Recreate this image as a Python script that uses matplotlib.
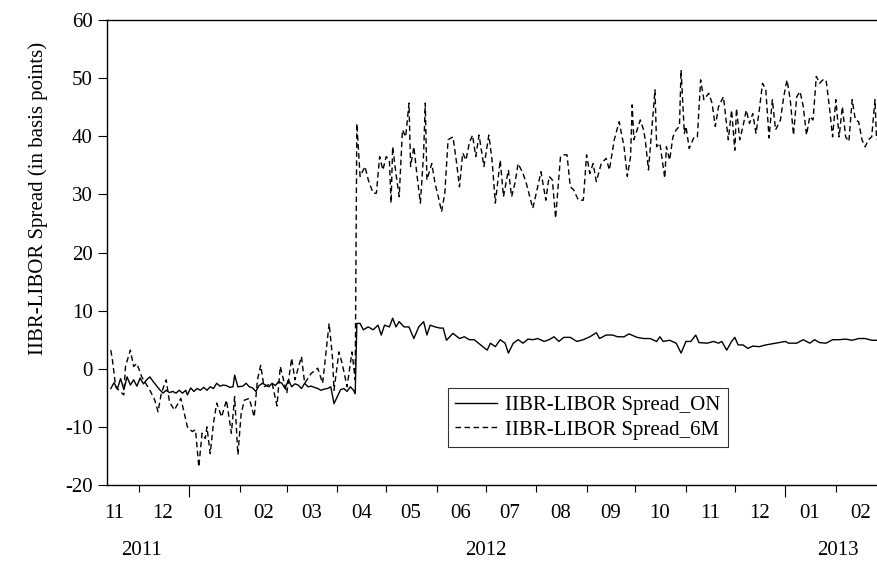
import pandas as pd
import matplotlib
matplotlib.use('Agg')
import matplotlib.pyplot as plt
import matplotlib.dates as mdates

plt.rcParams['font.family'] = ['Liberation Serif', 'DejaVu Serif']
plt.rcParams['axes.unicode_minus'] = False

# IIBR-LIBOR overnight spread (bp)
on_dates = [
    '2011-11-14', '2011-11-16', '2011-11-18', '2011-11-20', '2011-11-22', '2011-11-24',
    '2011-11-26', '2011-11-28', '2011-11-30', '2011-12-02', '2011-12-04', '2011-12-06',
    '2011-12-08', '2011-12-10', '2011-12-12', '2011-12-14', '2011-12-16', '2011-12-18',
    '2011-12-20', '2011-12-22', '2011-12-24', '2011-12-26', '2011-12-28', '2011-12-30',
    '2011-12-31', '2012-01-02', '2012-01-04', '2012-01-06', '2012-01-08', '2012-01-10',
    '2012-01-12', '2012-01-14', '2012-01-16', '2012-01-18', '2012-01-20', '2012-01-22',
    '2012-01-24', '2012-01-26', '2012-01-28', '2012-01-29', '2012-01-31', '2012-02-03',
    '2012-02-05', '2012-02-07', '2012-02-09', '2012-02-11', '2012-02-13', '2012-02-15',
    '2012-02-17', '2012-02-19', '2012-02-21', '2012-02-23', '2012-02-25', '2012-02-27',
    '2012-02-29', '2012-03-02', '2012-03-04', '2012-03-06', '2012-03-08', '2012-03-10',
    '2012-03-12', '2012-03-14', '2012-03-16', '2012-03-18', '2012-03-20', '2012-03-22',
    '2012-03-24', '2012-03-26', '2012-03-28', '2012-03-30', '2012-04-01', '2012-04-03',
    '2012-04-05', '2012-04-07', '2012-04-09', '2012-04-11', '2012-04-12', '2012-04-13',
    '2012-04-15', '2012-04-17', '2012-04-20', '2012-04-23', '2012-04-26', '2012-04-28',
    '2012-04-30', '2012-05-03', '2012-05-05', '2012-05-07', '2012-05-09', '2012-05-12',
    '2012-05-15', '2012-05-18', '2012-05-21', '2012-05-24', '2012-05-26', '2012-05-28',
    '2012-05-31', '2012-06-03', '2012-06-05', '2012-06-07', '2012-06-11', '2012-06-15',
    '2012-06-18', '2012-06-21', '2012-06-24', '2012-06-28', '2012-07-02', '2012-07-04',
    '2012-07-07', '2012-07-10', '2012-07-13', '2012-07-15', '2012-07-18', '2012-07-21',
    '2012-07-24', '2012-07-27', '2012-07-30', '2012-08-02', '2012-08-06', '2012-08-09',
    '2012-08-12', '2012-08-15', '2012-08-18', '2012-08-22', '2012-08-26', '2012-08-30',
    '2012-09-03', '2012-09-07', '2012-09-09', '2012-09-13', '2012-09-17', '2012-09-20',
    '2012-09-24', '2012-09-27', '2012-10-02', '2012-10-06', '2012-10-10', '2012-10-14',
    '2012-10-16', '2012-10-18', '2012-10-22', '2012-10-26', '2012-10-29', '2012-11-01',
    '2012-11-04', '2012-11-07', '2012-11-09', '2012-11-14', '2012-11-18', '2012-11-21',
    '2012-11-23', '2012-11-26', '2012-11-29', '2012-12-01', '2012-12-03', '2012-12-06',
    '2012-12-09', '2012-12-12', '2012-12-16', '2012-12-20', '2012-12-24', '2012-12-28',
    '2013-01-01', '2013-01-03', '2013-01-08', '2013-01-12', '2013-01-16', '2013-01-19',
    '2013-01-22', '2013-01-26', '2013-01-30', '2013-02-03', '2013-02-07', '2013-02-11',
    '2013-02-15', '2013-02-19', '2013-02-23', '2013-02-26',
]
on_vals = [
    -3.4, -2.4, -3.5, -1.7, -3.6, -1.4,
    -2.8, -1.9, -3.0, -1.6, -2.6, -1.9,
    -1.4, -2.2, -2.9, -3.6, -4.2, -3.7,
    -4.1, -3.9, -4.2, -3.7, -4.2, -3.7,
    -4.5, -3.3, -3.9, -3.4, -3.7, -3.2,
    -3.7, -3.1, -3.4, -2.5, -3.0, -2.8,
    -2.9, -3.2, -3.1, -1.1, -3.1, -3.0,
    -2.5, -3.1, -3.3, -3.9, -2.9, -2.5,
    -2.8, -3.1, -2.5, -2.9, -2.2, -2.5,
    -3.4, -1.9, -3.1, -2.6, -2.8, -3.4,
    -2.5, -3.1, -3.0, -3.2, -3.4, -3.7,
    -3.5, -3.4, -3.1, -6.0, -4.8, -3.6,
    -3.4, -3.9, -3.1, -3.7, -4.3, 7.8,
    7.8, 6.7, 7.2, 6.7, 7.5, 5.8,
    7.5, 7.2, 8.7, 7.2, 8.1, 7.2,
    7.2, 5.2, 7.2, 8.1, 5.8, 7.5,
    7.2, 7.0, 7.0, 4.9, 6.1, 5.2,
    5.5, 5.0, 5.0, 4.1, 3.2, 4.4,
    3.8, 5.0, 4.4, 2.7, 4.4, 5.0,
    4.4, 5.1, 5.0, 5.2, 4.7, 5.0,
    5.5, 4.7, 5.4, 5.4, 4.7, 5.0,
    5.5, 6.2, 5.2, 5.8, 5.8, 5.5,
    5.5, 6.0, 5.4, 5.2, 5.2, 4.7,
    5.5, 4.7, 4.9, 4.4, 2.7, 4.7,
    4.7, 5.8, 4.5, 4.4, 4.7, 4.4,
    4.7, 3.2, 4.7, 5.4, 4.1, 4.1,
    3.5, 3.9, 3.8, 4.1, 4.3, 4.5,
    4.7, 4.4, 4.4, 5.0, 4.4, 5.0,
    4.5, 4.4, 5.0, 5.0, 5.1, 4.9,
    5.2, 5.2, 4.9, 4.9,
]

# IIBR-LIBOR 6-month spread (bp)
m6_dates = [
    '2011-11-14', '2011-11-15', '2011-11-17', '2011-11-19', '2011-11-22', '2011-11-23',
    '2011-11-26', '2011-11-28', '2011-11-30', '2011-12-03', '2011-12-08', '2011-12-11',
    '2011-12-13', '2011-12-15', '2011-12-18', '2011-12-20', '2011-12-23', '2011-12-27',
    '2011-12-31', '2012-01-03', '2012-01-05', '2012-01-07', '2012-01-09', '2012-01-11',
    '2012-01-12', '2012-01-14', '2012-01-16', '2012-01-18', '2012-01-21', '2012-01-24',
    '2012-01-27', '2012-01-29', '2012-01-31', '2012-02-02', '2012-02-04', '2012-02-07',
    '2012-02-10', '2012-02-12', '2012-02-14', '2012-02-16', '2012-02-21', '2012-02-24',
    '2012-02-26', '2012-02-28', '2012-03-01', '2012-03-04', '2012-03-06', '2012-03-10',
    '2012-03-12', '2012-03-16', '2012-03-20', '2012-03-23', '2012-03-27', '2012-03-29',
    '2012-03-30', '2012-04-02', '2012-04-04', '2012-04-07', '2012-04-10', '2012-04-12',
    '2012-04-13', '2012-04-15', '2012-04-18', '2012-04-20', '2012-04-23', '2012-04-25',
    '2012-04-27', '2012-04-29', '2012-05-01', '2012-05-03', '2012-05-04', '2012-05-05',
    '2012-05-07', '2012-05-09', '2012-05-11', '2012-05-13', '2012-05-15', '2012-05-16',
    '2012-05-18', '2012-05-20', '2012-05-22', '2012-05-24', '2012-05-25', '2012-05-26',
    '2012-05-29', '2012-05-31', '2012-06-02', '2012-06-04', '2012-06-06', '2012-06-08',
    '2012-06-11', '2012-06-13', '2012-06-15', '2012-06-17', '2012-06-19', '2012-06-21',
    '2012-06-23', '2012-06-25', '2012-06-27', '2012-06-30', '2012-07-03', '2012-07-05',
    '2012-07-07', '2012-07-10', '2012-07-12', '2012-07-15', '2012-07-17', '2012-07-19',
    '2012-07-21', '2012-07-24', '2012-07-26', '2012-07-30', '2012-08-02', '2012-08-04',
    '2012-08-07', '2012-08-09', '2012-08-11', '2012-08-13', '2012-08-16', '2012-08-18',
    '2012-08-20', '2012-08-22', '2012-08-24', '2012-08-27', '2012-08-30', '2012-09-01',
    '2012-09-03', '2012-09-05', '2012-09-07', '2012-09-10', '2012-09-13', '2012-09-15',
    '2012-09-18', '2012-09-21', '2012-09-24', '2012-09-26', '2012-09-28', '2012-09-29',
    '2012-09-30', '2012-10-02', '2012-10-04', '2012-10-06', '2012-10-07', '2012-10-09',
    '2012-10-11', '2012-10-13', '2012-10-14', '2012-10-16', '2012-10-19', '2012-10-20',
    '2012-10-22', '2012-10-24', '2012-10-26', '2012-10-28', '2012-10-29', '2012-10-31',
    '2012-11-01', '2012-11-03', '2012-11-06', '2012-11-08', '2012-11-10', '2012-11-12',
    '2012-11-15', '2012-11-17', '2012-11-19', '2012-11-21', '2012-11-24', '2012-11-27',
    '2012-11-29', '2012-12-01', '2012-12-02', '2012-12-04', '2012-12-06', '2012-12-08',
    '2012-12-10', '2012-12-12', '2012-12-14', '2012-12-16', '2012-12-18', '2012-12-20',
    '2012-12-22', '2012-12-24', '2012-12-26', '2012-12-29', '2012-12-31', '2013-01-02',
    '2013-01-04', '2013-01-06', '2013-01-08', '2013-01-10', '2013-01-12', '2013-01-14',
    '2013-01-16', '2013-01-18', '2013-01-20', '2013-01-22', '2013-01-24', '2013-01-26',
    '2013-01-28', '2013-01-30', '2013-02-01', '2013-02-03', '2013-02-05', '2013-02-07',
    '2013-02-09', '2013-02-11', '2013-02-13', '2013-02-15', '2013-02-17', '2013-02-19',
    '2013-02-21', '2013-02-23', '2013-02-25', '2013-02-26',
]
m6_vals = [
    3.2, 1.5, -3.1, -3.7, -4.5, 0.4,
    3.2, 0.4, 0.9, -1.4, -3.7, -5.4,
    -7.4, -4.2, -1.9, -5.7, -7.1, -5.1,
    -10.0, -10.8, -10.5, -16.9, -11.1, -12.0,
    -10.0, -14.6, -9.4, -5.9, -8.3, -5.4,
    -11.1, -4.8, -14.8, -7.7, -5.4, -5.1,
    -8.3, -1.9, 0.6, -3.1, -2.5, -6.4,
    0.4, -1.9, -4.2, 1.8, -1.9, 2.1,
    -2.5, -0.8, 0.1, -2.5, 7.8, 2.1,
    -3.7, 2.9, 0.9, -3.1, 2.9, -1.9,
    42.2, 33.1, 34.8, 32.5, 30.2, 30.2,
    36.5, 34.2, 36.5, 35.9, 28.5, 38.2,
    33.6, 29.6, 41.1, 39.9, 45.7, 34.8,
    38.2, 33.1, 28.5, 37.1, 45.7, 32.5,
    35.3, 31.9, 29.6, 27.0, 30.2, 39.4,
    39.9, 35.9, 31.3, 37.1, 35.9, 38.8,
    40.2, 36.5, 40.2, 34.8, 40.2, 35.9,
    28.5, 35.9, 29.6, 34.2, 29.6, 31.9,
    35.3, 33.6, 31.9, 27.6, 31.3, 33.9,
    29.0, 33.1, 32.5, 25.9, 36.5, 36.8,
    36.8, 31.3, 30.8, 29.0, 29.0, 36.8,
    33.6, 35.3, 32.2, 35.3, 36.2, 34.2,
    39.4, 42.5, 38.2, 33.1, 36.5, 45.4,
    39.4, 41.1, 42.8, 41.1, 39.4, 34.2,
    41.1, 48.0, 38.2, 38.8, 32.8, 38.2,
    35.9, 39.9, 41.1, 41.7, 51.4, 40.5,
    41.7, 37.9, 39.9, 39.9, 49.7, 46.3,
    47.4, 45.7, 41.7, 45.1, 46.8, 39.4,
    44.5, 37.6, 44.8, 39.4, 41.7, 44.5,
    42.2, 43.9, 40.5, 44.5, 49.1, 48.0,
    39.7, 46.3, 41.1, 42.8, 46.8, 49.7,
    46.3, 40.2, 46.8, 47.7, 45.1, 40.2,
    43.4, 42.8, 50.3, 49.1, 49.7, 49.7,
    45.1, 39.9, 46.3, 39.9, 45.1, 39.9,
    39.1, 46.3, 42.8, 42.5, 39.4, 38.2,
    39.4, 39.9, 46.3, 39.4,
]

year_labels = ['2011', '2012', '2013']
year_label_dates = ['2011-12-03', '2012-07-01', '2013-02-02']

fig = plt.figure(figsize=(8.77, 5.62), dpi=100)
ax = fig.add_axes([0.1217, 0.137, 0.8783, 0.8274])

ax.plot(pd.to_datetime(on_dates), on_vals, color='black', lw=1.0,
        label='IIBR-LIBOR Spread_ON')
ax.plot(pd.to_datetime(m6_dates), m6_vals, color='black', lw=1.0,
        ls=(0, (4, 2.5)), label='IIBR-LIBOR Spread_6M')

ax.set_xlim(pd.Timestamp('2011-11-11 12:00'), pd.Timestamp('2013-02-26 06:00'))
ax.set_ylim(-20, 60)
ax.set_yticks(range(-20, 61, 10))
ax.tick_params(axis='y', direction='out', length=6.5, width=0.8, pad=3.5,
               labelsize=15)

# month boundaries as ticks, month numbers centred in between
month_starts = pd.date_range('2011-12-01', '2013-02-01', freq='MS')
ax.set_xticks(month_starts)
ax.set_xticklabels([''] * len(month_starts))
ax.tick_params(axis='x', which='major', direction='out', length=4.8, width=0.8)
for t, d in zip(ax.xaxis.get_major_ticks(), month_starts):
    if d.month == 1:
        t.tick1line.set_markersize(8.4)

mid_months = pd.date_range('2011-11-01', '2013-02-01', freq='MS') + pd.Timedelta(days=15)
ax.set_xticks(mid_months, minor=True)
ax.xaxis.set_minor_formatter(mdates.DateFormatter('%m'))
ax.tick_params(axis='x', which='minor', length=0, pad=14, labelsize=15)

for lab, d in zip(year_labels, year_label_dates):
    ax.text(pd.Timestamp(d), -0.14, lab, transform=ax.get_xaxis_transform(),
            ha='center', va='center', fontsize=15)

ax.text(-0.089, 0.617, 'IIBR-LIBOR Spread (in basis points)', rotation=90,
        transform=ax.transAxes, ha='center', va='center', fontsize=15)

for s in ['left', 'bottom', 'top']:
    ax.spines[s].set_linewidth(1.0)
ax.spines['right'].set_visible(False)

leg = ax.legend(loc='upper left', bbox_to_anchor=(0.443, 0.2086), fontsize=15,
                frameon=True, fancybox=False, borderaxespad=0, handlelength=2.0,
                handletextpad=0.4, labelspacing=0.25, borderpad=0.35)
leg.get_frame().set_edgecolor('black')
leg.get_frame().set_linewidth(0.8)

fig.savefig('out.png', dpi=100)
